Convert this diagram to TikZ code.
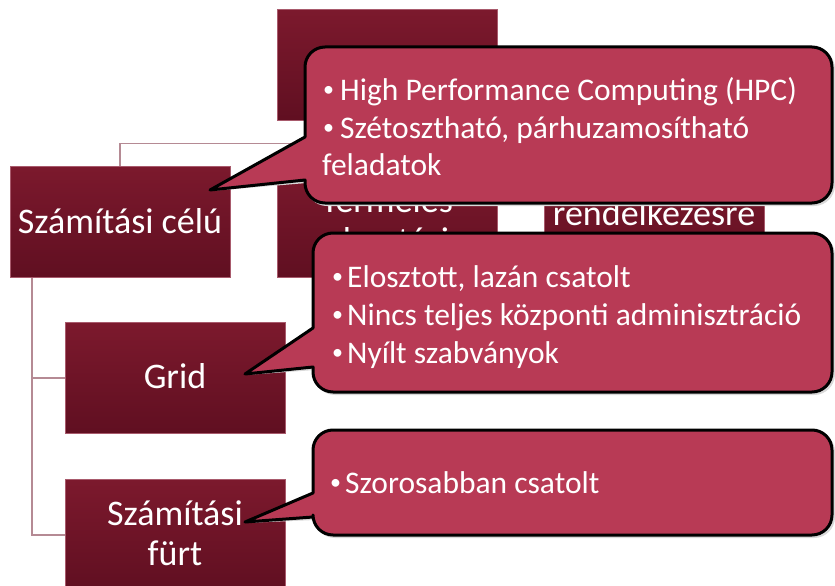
\documentclass[tikz,border=0pt]{standalone}
\usepackage{fontspec}
\setmainfont{Carlito}
\definecolor{boxtop}{HTML}{7C192D}
\definecolor{boxbot}{HTML}{600F21}
\definecolor{boxedge}{HTML}{A85A6C}
\definecolor{connc}{HTML}{B58A94}
\definecolor{callfill}{HTML}{B83A55}
\newcommand\callpath[8]{(#6) -- (#1,#5) -- (#1,#2+20) arc(180:90:20pt) -- (#3-20,#2) arc(90:0:20pt) -- (#3,#4-20) arc(0:-90:20pt) -- (#1+20,#4) arc(-90:-180:20pt) -- (#1,#7) -- cycle}
\newcommand\bul[1]{\makebox[#1][l]{\raisebox{3.5pt}{\fontsize{22}{22}\selectfont •}}}
\begin{document}
\begin{tikzpicture}[x=1pt,y=-1pt,
  hbox/.style={shade, top color=boxtop, bottom color=boxbot, draw=boxedge, line width=0.8pt,
    minimum width=220pt, minimum height=111pt, inner sep=0pt, outer sep=0pt},
  conn/.style={draw=connc, line width=1.6pt},
  btext/.style={text=white, font=\fontsize{36}{40}\selectfont, inner sep=0pt},
  ctext/.style={text=white, font=\fontsize{31.5}{38}\selectfont, inner sep=0pt, anchor=base west},
  callout/.style={fill=callfill, draw=black, line width=3pt, line join=round},
  cshadow/.style={draw=black!15, line width=2pt, line join=round, xshift=2pt, yshift=-2pt}]
\useasboundingbox (0,0) rectangle (835,586);
\fill[white] (0,0) rectangle (835,586);

% boxes
\node[hbox] (root) at (387,65) {};
\node[hbox] (c1) at (120,221.5) {};
\node[hbox] (c2) at (387,221.5) {};
\node[hbox] (c3) at (654,221.5) {};
\node[hbox] (grid) at (175,378) {};
\node[hbox] (furt) at (175,535) {};

% connectors
\draw[conn] (root.south) -- ++(0,23) coordinate (hub);
\draw[conn] (c1.north) |- (hub) -| (c3.north);
\draw[conn] (c2.north) -- (c2.north |- hub);
\draw[conn] ([xshift=22pt]c1.south west) coordinate (trunk) |- (grid.west);
\draw[conn] (trunk) |- (furt.west);
\foreach \n in {root,c1,c2,c3,grid,furt}{\node[hbox] at (\n) {};}

% box texts
\node[btext, anchor=base] (l1) at (120,233) {Számítási célú};
\node[btext, anchor=base] (l2a) at (387,212) {Termelés};
\node[btext, anchor=base] (l2b) at (387,252) {elosztási};
\node[btext, anchor=base] (l3a) at (654,185) {Folyamatos};
\node[btext, anchor=base] (l3b) at (654,225) {rendelkezésre};
\node[btext, anchor=base] (l3c) at (654,265) {állás};
\node[btext, anchor=base] (l4) at (175,388) {Grid};
\node[btext, anchor=base] (l5a) at (175,525) {Számítási};
\node[btext, anchor=base] (l5b) at (175,565) {fürt};

% callouts
\coordinate (tipA) at (210,190);
\coordinate (tipB) at (245,374);
\coordinate (tipC) at (245,522);
\draw[cshadow] \callpath{305}{47}{832}{203}{137}{tipA}{180}{};
\draw[callout] \callpath{305}{47}{832}{203}{137}{tipA}{180}{};
\draw[cshadow] \callpath{313}{233}{832}{392}{328}{tipB}{367}{};
\draw[callout] \callpath{313}{233}{832}{392}{328}{tipB}{367}{};
\draw[cshadow] \callpath{313}{430}{832}{535}{493}{tipC}{517}{};
\draw[callout] \callpath{313}{430}{832}{535}{493}{tipC}{517}{};

% callout texts
\node[ctext] (a1) at (323,100) {\bul{17pt}High Performance Computing (HPC)};
\node[ctext] (a2) at (323,138) {\bul{17pt}Szétosztható, párhuzamosítható};
\node[ctext] (a3) at (322,175) {feladatok};
\node[ctext] (b1) at (332,287) {\bul{15pt}Elosztott, lazán csatolt};
\node[ctext] (b2) at (332,325) {\bul{15pt}Nincs teljes központi adminisztráció};
\node[ctext] (b3) at (332,363) {\bul{15pt}Nyílt szabványok};
\node[ctext] (d1) at (330,493) {\bul{15pt}Szorosabban csatolt};
\end{tikzpicture}
\end{document}
